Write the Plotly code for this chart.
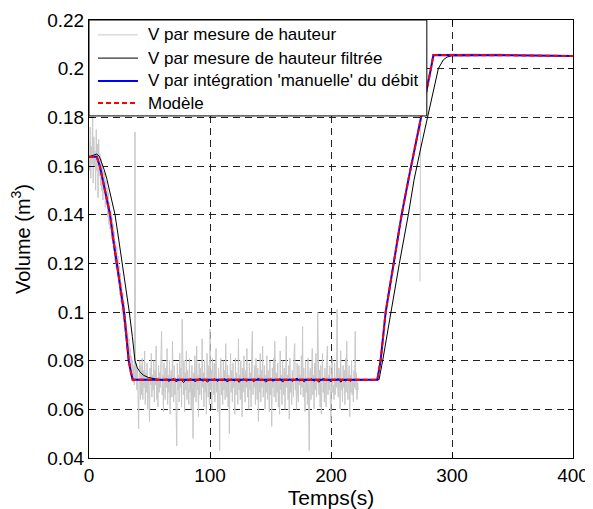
import plotly.graph_objects as go

# Volume du reservoir : mesure brute, mesure filtree, integration du debit, modele
# (temps en s, volume en m3)

# mesure de hauteur brute, un point toutes les 0.5 s a partir de t = 0
v_brut = [
    # 0 - 42.5 s : vidange
    0.170, 0.158, 0.176, 0.155, 0.168, 0.161, 0.180, 0.153, 0.172, 0.160,
    0.166, 0.150, 0.175, 0.158, 0.169, 0.147, 0.171, 0.156, 0.165, 0.152,
    0.163, 0.150, 0.161, 0.146, 0.158, 0.149, 0.157, 0.143, 0.154, 0.144,
    0.151, 0.139, 0.149, 0.136, 0.145, 0.134, 0.142, 0.130, 0.139, 0.128,
    0.136, 0.125, 0.133, 0.121, 0.129, 0.118, 0.127, 0.115, 0.123, 0.112,
    0.119, 0.107, 0.116, 0.104, 0.112, 0.099, 0.108, 0.096, 0.104, 0.092,
    0.100, 0.089, 0.096, 0.085, 0.092, 0.081, 0.089, 0.078, 0.085, 0.076,
    0.082, 0.073, 0.080, 0.071, 0.078, 0.070, 0.174, 0.072, 0.079, 0.068,
    0.077, 0.066, 0.052, 0.075, 0.080, 0.064,
    # 43 - 222.5 s : palier bas
    0.078, 0.066, 0.081, 0.064, 0.076, 0.069, 0.084, 0.062, 0.075, 0.067,
    0.079, 0.060, 0.073, 0.068, 0.055, 0.077, 0.070, 0.083, 0.065, 0.074,
    0.068, 0.080, 0.063, 0.076, 0.070, 0.086, 0.064, 0.073, 0.061, 0.078,
    0.067, 0.075, 0.069, 0.082, 0.092, 0.066, 0.074, 0.059, 0.079, 0.071,
    0.064, 0.077, 0.069, 0.085, 0.062, 0.074, 0.067, 0.080, 0.058, 0.072,
    0.076, 0.065, 0.088, 0.070, 0.063, 0.078, 0.066, 0.073, 0.060, 0.045,
    0.079, 0.068, 0.074, 0.063, 0.083, 0.069, 0.077, 0.061, 0.097, 0.071,
    0.066, 0.080, 0.059, 0.075, 0.068, 0.084, 0.064, 0.076, 0.070, 0.062,
    0.081, 0.067, 0.073, 0.060, 0.078, 0.069, 0.048, 0.075, 0.065, 0.082,
    0.071, 0.063, 0.086, 0.068, 0.074, 0.057, 0.079, 0.066, 0.077, 0.070,
    0.064, 0.089, 0.069, 0.075, 0.061, 0.080, 0.067, 0.073, 0.058, 0.083,
    0.070, 0.065, 0.078, 0.062, 0.093, 0.068, 0.076, 0.060, 0.081, 0.071,
    0.066, 0.079, 0.063, 0.074, 0.085, 0.067, 0.072, 0.059, 0.077, 0.069,
    0.043, 0.075, 0.081, 0.066, 0.073, 0.062, 0.080, 0.068, 0.076, 0.064,
    0.087, 0.070, 0.065, 0.078, 0.061, 0.074, 0.050, 0.072, 0.083, 0.067,
    0.076, 0.063, 0.079, 0.069, 0.073, 0.058, 0.081, 0.066, 0.075, 0.070,
    0.062, 0.089, 0.068, 0.074, 0.064, 0.080, 0.071, 0.057, 0.077, 0.067,
    0.082, 0.070, 0.063, 0.076, 0.069, 0.085, 0.065, 0.073, 0.060, 0.079,
    0.068, 0.075, 0.061, 0.084, 0.092, 0.066, 0.073, 0.069, 0.078, 0.062,
    0.081, 0.070, 0.064, 0.077, 0.055, 0.074, 0.067, 0.083, 0.063, 0.076,
    0.069, 0.086, 0.065, 0.072, 0.078, 0.060, 0.074, 0.067, 0.082, 0.064,
    0.076, 0.070, 0.059, 0.080, 0.066, 0.073, 0.053, 0.077, 0.069, 0.081,
    0.065, 0.088, 0.070, 0.063, 0.075, 0.067, 0.079, 0.061, 0.072, 0.058,
    0.084, 0.068, 0.074, 0.062, 0.080, 0.071, 0.066, 0.077, 0.060, 0.073,
    0.090, 0.069, 0.074, 0.064, 0.078, 0.056, 0.081, 0.067, 0.073, 0.062,
    0.076, 0.070, 0.065, 0.083, 0.087, 0.068, 0.072, 0.060, 0.079, 0.066,
    0.063, 0.078, 0.070, 0.074, 0.066, 0.082, 0.069, 0.094, 0.065, 0.077,
    0.071, 0.059, 0.080, 0.067, 0.073, 0.062, 0.081, 0.069, 0.043, 0.075,
    0.077, 0.064, 0.071, 0.085, 0.066, 0.074, 0.060, 0.079, 0.068, 0.083,
    0.065, 0.072, 0.100, 0.070, 0.066, 0.076, 0.061, 0.078, 0.058, 0.073,
    0.083, 0.067, 0.072, 0.063, 0.077, 0.069, 0.061, 0.080, 0.086, 0.066,
    0.074, 0.068, 0.078, 0.062, 0.055, 0.075, 0.081, 0.067, 0.070, 0.064,
    0.079, 0.066, 0.073, 0.069, 0.101, 0.070, 0.065, 0.077, 0.074, 0.060,
    0.084, 0.068, 0.072, 0.063, 0.078, 0.069, 0.076, 0.062, 0.081, 0.067,
    0.088, 0.070, 0.064, 0.073, 0.078, 0.057, 0.074, 0.067, 0.080, 0.066,
    0.072, 0.063, 0.076, 0.069, 0.092, 0.068, 0.075, 0.064, 0.071, 0.068,
]
t_brut = [0.5 * i for i in range(len(v_brut))]
# reprise de l'acquisition pendant le remplissage
t_brut2 = [273.5, 274, 276, 278, 280, 282, 284, 286, 290, 295, 300, 305, 310,
           315, 320, 325, 330, 335, 340, 345, 350, 360, 370, 380, 390, 400]
v_brut2 = [0.1125, 0.180, 0.1845, 0.189, 0.1935, 0.1985, 0.2035, 0.2058,
           0.2060, 0.2058, 0.2061, 0.2059, 0.2060, 0.2058, 0.2061, 0.2059,
           0.2060, 0.2058, 0.2061, 0.2057, 0.2055, 0.2054, 0.2055, 0.2053,
           0.2054, 0.2053]

# mesure filtree
t_filt_desc = [0, 2, 4, 6.4, 8.5, 10.5, 12.5, 14.6, 17, 19.3, 21.5, 24.5, 27.5,
               30.5, 33.3, 35.8, 38, 40, 42, 45, 49, 55]
v_filt_desc = [0.1635, 0.1642, 0.1645, 0.1649, 0.1640, 0.1615, 0.1585, 0.1550,
               0.1500, 0.1450, 0.1400, 0.1300, 0.1200, 0.1100, 0.1000, 0.0900,
               0.0800, 0.0770, 0.0755, 0.0740, 0.0731, 0.0725]
t_filt_plat = list(range(60, 222, 2))
v_filt_plat = [
    0.0722, 0.0718, 0.0724, 0.0715, 0.0721, 0.0726, 0.0713, 0.0720, 0.0723, 0.0710,
    0.0721, 0.0717, 0.0725, 0.0719, 0.0714, 0.0722, 0.0727, 0.0716, 0.0720, 0.0712,
    0.0723, 0.0719, 0.0725, 0.0715, 0.0721, 0.0718, 0.0726, 0.0713, 0.0720, 0.0724,
    0.0717, 0.0722, 0.0711, 0.0721, 0.0725, 0.0716, 0.0720, 0.0723, 0.0714, 0.0721,
    0.0727, 0.0718, 0.0722, 0.0713, 0.0720, 0.0724, 0.0716, 0.0721, 0.0719, 0.0726,
    0.0712, 0.0722, 0.0718, 0.0724, 0.0715, 0.0721, 0.0728, 0.0717, 0.0720, 0.0713,
    0.0723, 0.0719, 0.0725, 0.0716, 0.0721, 0.0711, 0.0722, 0.0727, 0.0718, 0.0720,
    0.0714, 0.0723, 0.0719, 0.0726, 0.0712, 0.0721, 0.0717, 0.0724, 0.0715, 0.0722,
    0.0719,
]
t_filt_mont = [230, 239.7, 242.7, 249.3, 256.5, 263.9, 268.6, 274, 279.6, 284.6,
               288.7, 292.8, 296, 299.7, 345, 400]
v_filt_mont = [0.0722, 0.0722, 0.0800, 0.1000, 0.1200, 0.1400, 0.1542, 0.1670,
               0.1800, 0.1912, 0.2000, 0.2036, 0.2048, 0.2053, 0.2055, 0.2053]

# integration du debit et modele (confondus)
t_modele = [0, 6.4, 9.1, 13, 17.4, 20.1, 22.8, 25.9, 28.9, 30.9, 32.8, 34.5,
            36.1, 238.3, 241, 245.2, 251.5, 258.4, 263.9, 269, 274, 278.5,
            282.6, 284.6, 345, 400]
v_modele = [0.1638, 0.1638, 0.1597, 0.1505, 0.1400, 0.1296, 0.1200, 0.1100,
            0.1000, 0.0900, 0.0800, 0.0755, 0.0722, 0.0722, 0.0800, 0.1000,
            0.1200, 0.1400, 0.1542, 0.1670, 0.1800, 0.1900, 0.2000, 0.2056,
            0.2055, 0.2052]
t_integ = t_modele
v_integ = v_modele

noms = ["V par mesure de hauteur", "V par mesure de hauteur filtrée",
        "V par intégration 'manuelle' du débit", "Modèle"]

x_ticks = [0, 100, 200, 300, 400]
y_ticks = [0.04, 0.06, 0.08, 0.1, 0.12, 0.14, 0.16, 0.18, 0.2, 0.22]
y_ticktext = ["0.04", "0.06", "0.08", "0.1", "0.12", "0.14", "0.16", "0.18", "0.2", "0.22"]

styles = [dict(color="#c8c8c8", width=1),
          dict(color="black", width=1),
          dict(color="#0000ff", width=2),
          dict(color="#ff0000", width=2, dash="5px,3px")]

fig = go.Figure()
fig.add_trace(go.Scatter(x=t_brut + [None] + t_brut2, y=v_brut + [None] + v_brut2,
                         mode="lines", name=noms[0], line=styles[0], connectgaps=False))
fig.add_trace(go.Scatter(x=t_filt_desc + t_filt_plat + t_filt_mont,
                         y=v_filt_desc + v_filt_plat + v_filt_mont,
                         mode="lines", name=noms[1], line=styles[1]))
fig.add_trace(go.Scatter(x=t_integ, y=v_integ, mode="lines", name=noms[2], line=styles[2]))
fig.add_trace(go.Scatter(x=t_modele, y=v_modele, mode="lines", name=noms[3], line=styles[3]))

axis_style = dict(showline=True, linecolor="black", linewidth=1, mirror="ticks",
                  ticks="inside", ticklen=5, tickcolor="black",
                  showgrid=True, gridcolor="#222", gridwidth=1, griddash="7px,5px",
                  zeroline=False, tickfont=dict(size=19, color="black"))

fig.update_xaxes(range=[0, 400], tickvals=x_ticks,
                 title=dict(text="Temps(s)", font=dict(size=21, color="black"), standoff=2),
                 **axis_style)
fig.update_yaxes(range=[0.04, 0.22], tickvals=y_ticks, ticktext=y_ticktext,
                 title=dict(text="Volume (m<sup>3</sup>)", font=dict(size=20, color="black"), standoff=11),
                 **axis_style)

# legende style MATLAB (cadre blanc dans le coin haut gauche)
leg_x0, leg_x1, leg_y0, leg_y1 = 0.0, 0.698, 0.781, 1.0
rows_y = [0.966, 0.913, 0.861, 0.8105]
fig.add_shape(type="rect", xref="paper", yref="paper", x0=leg_x0, x1=leg_x1,
              y0=leg_y0, y1=leg_y1, fillcolor="white",
              line=dict(color="black", width=1), layer="above")
for nom, st, yy in zip(noms, styles, rows_y):
    fig.add_shape(type="line", xref="paper", yref="paper", x0=0.0186, x1=0.1012,
                  y0=yy, y1=yy, line=st, layer="above")
    fig.add_annotation(text=nom, xref="paper", yref="paper", x=0.1178, y=yy,
                       xanchor="left", yanchor="middle", showarrow=False,
                       font=dict(size=17, color="black"))

# la page ajoute une marge de 8 px autour de la figure
fig.update_layout(
    width=585, height=501,
    margin=dict(l=81, r=20, t=12, b=51, autoexpand=False),
    plot_bgcolor="white", paper_bgcolor="white",
    font=dict(family="Liberation Sans, Arial, sans-serif", color="black"),
    showlegend=False,
)

fig.write_html("out.html")
